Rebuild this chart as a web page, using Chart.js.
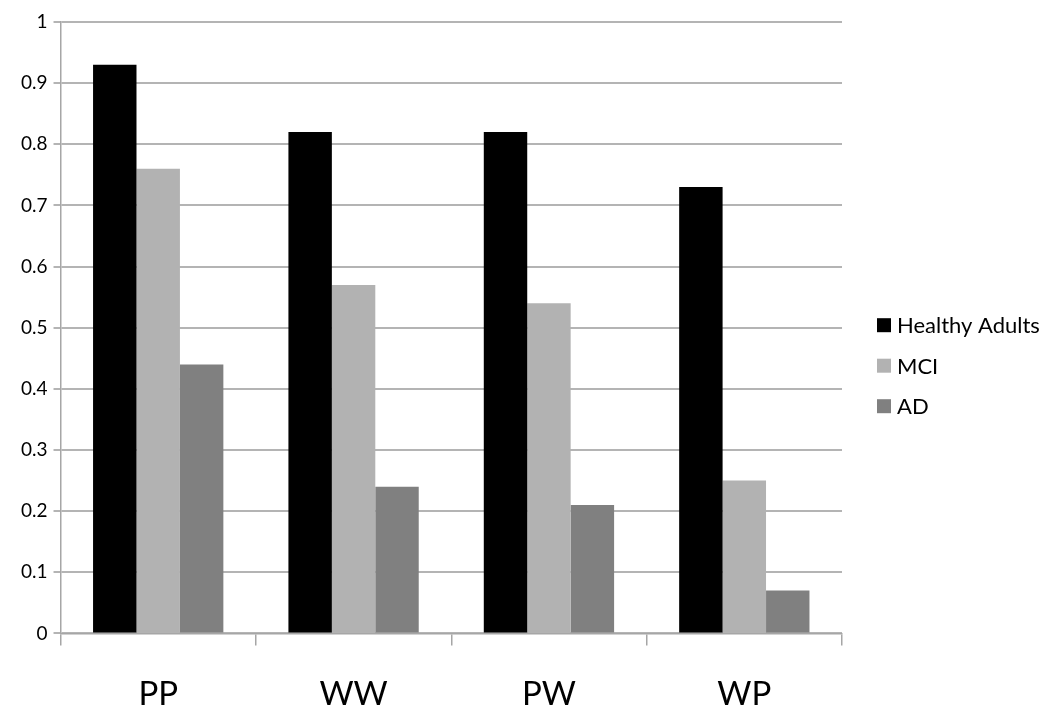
<!DOCTYPE html>
<html>
<head>
<meta charset="utf-8">
<script src="https://cdn.jsdelivr.net/npm/chart.js@4"></script>
<style>
  html, body { margin: 0; padding: 0; background: #fff; }
  #wrap { width: 1050px; height: 726px; }
</style>
</head>
<body>
<div id="wrap"><canvas id="chart" width="1050" height="726"></canvas></div>
<script>
// Conditions on the x axis
const categories = ['PP', 'WW', 'PW', 'WP'];

// Group values
const healthyAdults = [0.93, 0.82, 0.82, 0.73];
const mci = [0.76, 0.57, 0.54, 0.25];
const ad = [0.44, 0.24, 0.21, 0.07];

const yTicks = [0, 0.1, 0.2, 0.3, 0.4, 0.5, 0.6, 0.7, 0.8, 0.9, 1];

const FONT = 'Lato, "Open Sans", sans-serif';

// Legend to the right of the plot, Excel style (box then label)
const sideLegend = {
    id: 'sideLegend',
    afterDraw(chart) {
        const c = chart.ctx;
        const area = chart.chartArea;
        const items = chart.data.datasets;
        const rowGap = 40.5;
        const x = area.right + 35;
        let y = (area.top + area.bottom) / 2 + 38 - rowGap * (items.length - 1) / 2;
        c.save();
        c.font = '22px ' + FONT;
        c.textBaseline = 'middle';
        c.textAlign = 'left';
        items.forEach(ds => {
            c.fillStyle = ds.backgroundColor;
            c.fillRect(x, y - 7, 14, 14);
            c.fillStyle = '#000';
            c.fillText(ds.label, x + 20, y + 1);
            y += rowGap;
        });
        c.restore();
    }
};

const ctx = document.getElementById('chart').getContext('2d');

new Chart(ctx, {
    type: 'bar',
    data: {
        labels: categories,
        datasets: [
            { label: 'Healthy Adults', data: healthyAdults, backgroundColor: '#000000' },
            { label: 'MCI', data: mci, backgroundColor: '#b2b2b2' },
            { label: 'AD', data: ad, backgroundColor: '#808080' }
        ]
    },
    options: {
        responsive: false,
        animation: false,
        categoryPercentage: 0.667,
        barPercentage: 1.0,
        layout: { padding: { top: 22, right: 208, left: 15, bottom: -17 } },
        plugins: {
            tooltip: { enabled: false },
            legend: { display: false }
        },
        scales: {
            x: {
                offset: true,
                grid: {
                    display: true,
                    offset: true,
                    drawOnChartArea: false,
                    drawTicks: true,
                    tickLength: 12,
                    color: '#a6a6a6',
                    lineWidth: 1.5
                },
                border: { display: true, color: '#a6a6a6', width: 1.5 },
                ticks: {
                    color: '#000',
                    padding: 29,
                    font: { family: FONT, size: 33 }
                }
            },
            y: {
                min: 0,
                max: 1,
                afterBuildTicks: axis => {
                    axis.ticks = yTicks.map(v => ({ value: v }));
                },
                grid: {
                    color: '#b4b4b4',
                    lineWidth: 2,
                    tickLength: 7
                },
                border: { display: true, color: '#a6a6a6', width: 1.5 },
                ticks: {
                    color: '#000',
                    padding: 6,
                    font: { family: FONT, size: 19 },
                    callback: v => String(Math.round(v * 10) / 10)
                }
            }
        }
    },
    plugins: [sideLegend]
});
</script>
</body>
</html>
